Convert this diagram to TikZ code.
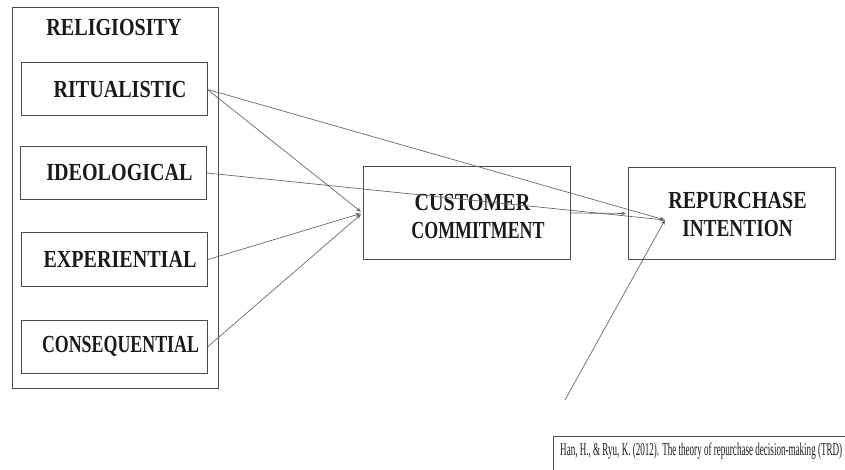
\documentclass[tikz,border=0pt]{standalone}
\usepackage{fontspec}
\usepackage{graphicx}
\setmainfont{Liberation Serif}
\newfontfamily\lblfont[FakeStretch=0.82]{Liberation Serif}
\usetikzlibrary{arrows.meta}
\definecolor{boxline}{HTML}{4A4A4A}
\definecolor{conn}{HTML}{6A6A6A}
\definecolor{ink}{HTML}{1A1A1A}
\tikzset{
  outerbox/.style={draw=boxline, line width=1pt, minimum width=206pt, minimum height=380pt, inner sep=0pt},
  dimbox/.style={draw=boxline, line width=1pt, minimum width=186pt, minimum height=53pt, inner sep=0pt,
     font=\lblfont\fontsize{24.5}{28}\selectfont\bfseries, text=ink},
  bigbox/.style={draw=boxline, line width=1pt, minimum width=207pt, minimum height=92pt, inner sep=0pt},
  bigtext/.style={align=center, inner sep=0pt, font=\lblfont\fontsize{24.5}{28}\selectfont\bfseries, text=ink},
  titletext/.style={font=\lblfont\fontsize{24.5}{28}\selectfont\bfseries, text=ink, inner sep=0pt},
  conarrow/.style={draw=conn, line width=0.7pt, -{Stealth[length=5pt,width=4pt]}},
  citebox/.style={draw=boxline, line width=1pt, minimum width=310pt, minimum height=50pt, inner sep=0pt},
  citetext/.style={font=\fontsize{18}{20}\selectfont, text=ink, inner sep=0pt}
}
\begin{document}
\begin{tikzpicture}[x=1pt,y=-1pt]
\useasboundingbox (0,0) rectangle (845,470);
% religiosity group
\node[outerbox] (rel) at (115,198) {};
\node[titletext] (reltitle) at (114,28) {RELIGIOSITY};
\node[dimbox] (rit) at (114,89.5) {\hspace*{12pt}RITUALISTIC};
\node[dimbox] (ide) at (113.5,173) {\hspace*{12pt}IDEOLOGICAL};
\node[dimbox] (exp) at (114.5,259.5) {\hspace*{11pt}EXPERIENTIAL};
\node[dimbox] (con) at (114.5,346.5) {\hspace*{12pt}\scalebox{0.89}[1]{CONSEQUENTIAL}};
% main constructs
\node[bigbox] (cc) at (466.5,213) {};
\node[bigtext] (cctext) at (472.5,216.5) {CUSTOMER\\\hspace*{11pt}\scalebox{0.89}[1]{COMMITMENT}};
\node[bigbox] (ri) at (732,213.5) {};
\node[bigtext] (ritext) at (737.5,214.5) {REPURCHASE\\\scalebox{0.96}[1]{INTENTION}};
\coordinate (riin) at (665,220);
\coordinate (ext) at (565,400);
% connectors
\draw[conarrow, shorten >=2pt] (rit.east) -- (cc.west);
\draw[conarrow, shorten >=2pt] (exp.east) -- (cc.west);
\draw[conarrow, shorten >=2pt] (con.east) -- (cc.west);
\draw[conarrow] (rit.east) -- (riin);
\draw[conarrow] (ide.east) -- (riin);
\draw[conarrow, shorten >=2pt] (cc.east) -- (ri.west);
\draw[conarrow] (ext) -- (riin);
% citation
\node[citebox, anchor=north west] (cite) at (553,436) {};
\node[citetext, anchor=west] (citet) at (560,451) {\resizebox{282pt}{\height}{Han, H., \& Ryu, K. (2012). The theory of repurchase decision-making (TRD)}};
\end{tikzpicture}
\end{document}
